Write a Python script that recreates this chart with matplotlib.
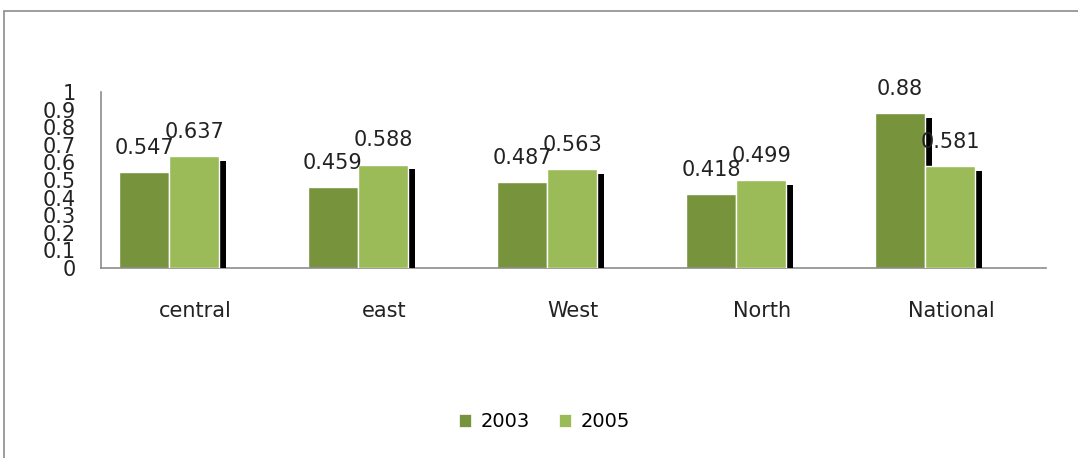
import matplotlib
matplotlib.use("Agg")
import matplotlib.pyplot as plt
import matplotlib.patheffects as pe
from matplotlib.patches import Rectangle, Patch
import numpy as np

regions = ["central", "east", "West", "North", "National"]
years = ["2003", "2005"]
vals_2003 = [0.547, 0.459, 0.487, 0.418, 0.88]
vals_2005 = [0.637, 0.588, 0.563, 0.499, 0.581]

colors = ["#77933C", "#9BBB59"]

fig = plt.figure(figsize=(10.78, 4.58), dpi=100)
ax = fig.add_axes([0.0937, 0.4148, 0.8766, 0.3843])

# outer chart border
fig.patches.append(Rectangle((0.004, -0.01), 1.1, 0.986, transform=fig.transFigure,
                             fill=False, edgecolor="#8c8c8c", linewidth=1.2))

x = np.arange(len(regions))
w = 0.265
shadow = [pe.SimplePatchShadow(offset=(5, -3.5), shadow_rgbFace="black", alpha=1.0), pe.Normal()]

for i, (vals, yr) in enumerate([(vals_2003, years[0]), (vals_2005, years[1])]):
    pos = x - w / 2 + i * w
    bars = ax.bar(pos, vals, w, color=colors[i], edgecolor="white", linewidth=1,
                  zorder=2 + i)
    for b in bars:
        b.set_path_effects(shadow)
    for p, v in zip(pos, vals):
        ax.annotate(f"{v:g}", (p, v), xytext=(0, 13), textcoords="offset points",
                    ha="center", va="baseline", fontsize=15, color="#222222", zorder=10)

ax.set_xlim(-0.36, len(regions) - 0.36)
ax.set_ylim(0, 1)
ax.set_yticks(np.arange(0, 1.01, 0.1))
ax.set_yticklabels(["0", "0.1", "0.2", "0.3", "0.4", "0.5", "0.6", "0.7", "0.8", "0.9", "1"])
ax.set_xticks(x + 0.138)
ax.set_xticklabels(regions)
ax.tick_params(axis="x", length=0, pad=24, labelsize=15, labelcolor="#222222")
ax.tick_params(axis="y", length=0, pad=18, labelsize=15, labelcolor="#222222")

for s in ["top", "right"]:
    ax.spines[s].set_visible(False)
for s in ["left", "bottom"]:
    ax.spines[s].set_color("#8c8c8c")
    ax.spines[s].set_linewidth(1.2)

handles = [Patch(facecolor=c, edgecolor="white", linewidth=0.5) for c in colors]
fig.legend(handles, years, loc="center", bbox_to_anchor=(0.505, 0.079), ncol=2,
           frameon=False, fontsize=14, handlelength=0.6, handleheight=0.6,
           handletextpad=0.5, columnspacing=1.5)

fig.savefig("out.png", dpi=100)
